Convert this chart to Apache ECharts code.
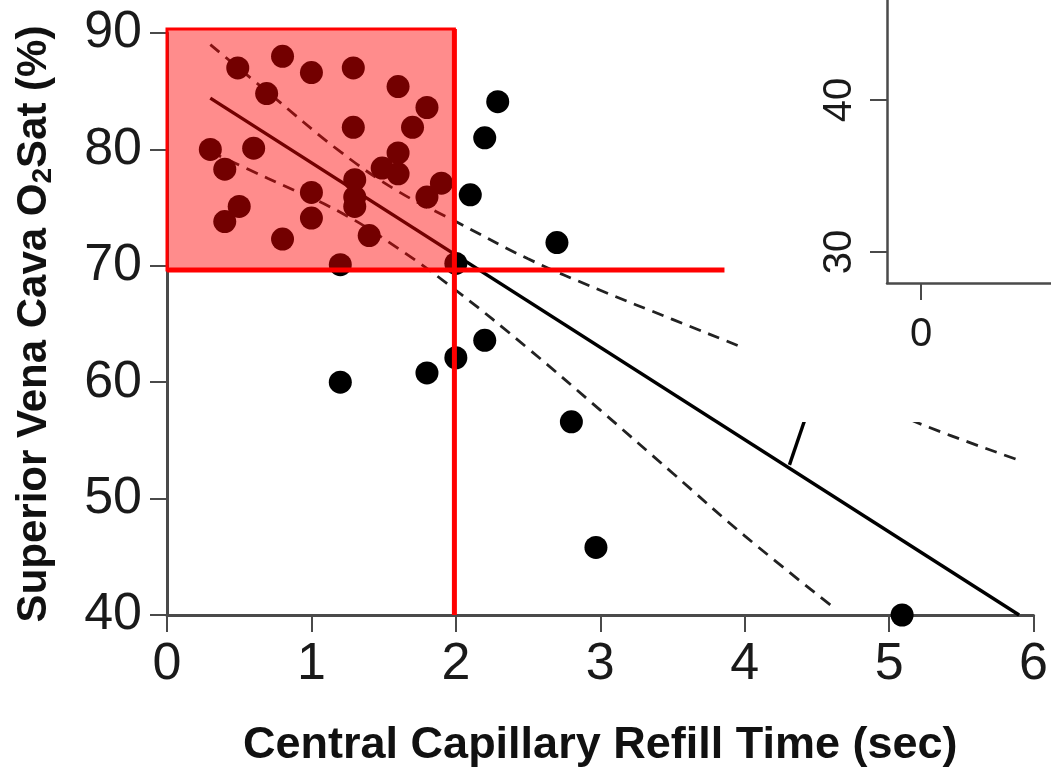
<!DOCTYPE html>
<html>
<head>
<meta charset="utf-8">
<script src="https://cdn.jsdelivr.net/npm/echarts@6/dist/echarts.min.js"></script>
<style>html,body{margin:0;padding:0;background:#fff}#c{width:1051px;height:774px}</style>
</head>
<body>
<div id="c"></div>
<script>
// Scatter data: Central capillary refill time (sec) vs SVC O2 saturation (%)
var ccrt = [0.49,0.8,1.0,1.29,0.69,1.6,1.8,1.7,1.29,0.3,0.6,0.4,1.6,1.49,1.6,1.9,1.8,1.3,1.3,1.3,1.0,1.0,0.5,0.4,1.4,0.8,1.2,2.0,2.29,2.2,2.1,2.7,1.2,1.8,2.0,2.2,2.8,2.97,5.09];
var svco2 = [87.0,88.0,86.6,87.0,84.8,85.4,83.6,81.9,81.9,80.0,80.1,78.3,79.7,78.4,77.9,77.1,75.9,77.4,75.9,75.1,76.3,74.1,75.1,73.8,72.6,72.3,70.1,70.2,84.1,81.0,76.1,72.0,60.0,60.8,62.1,63.6,56.6,45.8,40.0];
// Regression line end points
var fitX = [0.3, 5.9];
var fitY = [84.4, 40.0];
// Confidence band
var upX = [0.3,0.7,1.2,1.6,2.0,2.5,3.0,3.5,4.0,4.6,5.2,5.9];
var upY = [89.0,84.9,79.8,76.4,73.8,70.6,67.9,65.4,62.9,59.8,56.5,53.3];
var loX = [0.3,0.7,1.2,1.6,2.0,2.5,3.0,3.5,4.0,4.62];
var loY = [79.8,77.5,74.6,71.5,67.9,62.9,57.6,52.2,46.8,40.6];
// Short stray segment
var segX = [4.31, 4.45];
var segY = [52.9, 58.0];
// Highlight thresholds
var ccrtCut = 1.99;
var svcCut = 69.64;
var areaTop = 90.34;
var hLineEnd = 3.86;
var yBottom = 40;
// Tick labels
var xTicks = [0,1,2,3,4,5,6];
var yTicks = [40,50,60,70,80,90];
var insetYTicks = [30,40];
var insetXTicks = [0];

function zip(a,b){return a.map(function(v,i){return [v,b[i]];});}

var FONT = 'Liberation Sans';
var TFONT = "'Liberation Sans Narrow', 'Liberation Sans', sans-serif";
var axisCol = '#4a4a4a';

var chart = echarts.init(document.getElementById('c'), null, {renderer:'canvas'});
chart.setOption({
  backgroundColor:'#ffffff',
  animation:false,
  grid:[
    {left:167, right:16, top:33, bottom:159, containLabel:false},
    {left:887, right:0, top:0, bottom:491, containLabel:false}
  ],
  xAxis:[
    {type:'value', gridIndex:0, min:0, max:6, interval:1,
     name:'Central Capillary Refill Time (sec)', nameLocation:'middle', nameGap:108,
     nameTextStyle:{fontFamily:TFONT, fontWeight:'bold', fontSize:45, color:'#111'},
     axisLine:{show:true, onZero:false, lineStyle:{color:axisCol, width:3}},
     axisTick:{show:true, length:17, lineStyle:{color:axisCol, width:2}},
     axisLabel:{fontFamily:FONT, fontSize:52, color:'#1a1a1a', margin:24,
       customValues:xTicks},
     splitLine:{show:false}},
    {type:'value', gridIndex:1, min:-0.227, max:0.866, z:10,
     axisLine:{show:true, onZero:false, lineStyle:{color:axisCol, width:2.5}},
     axisTick:{show:true, length:17, customValues:insetXTicks, lineStyle:{color:axisCol, width:2}},
     axisLabel:{fontFamily:FONT, fontSize:40, color:'#1a1a1a', margin:32, customValues:insetXTicks},
     splitLine:{show:false}},
  ],
  yAxis:[
    {type:'value', gridIndex:0, min:40, max:90, interval:10,
     name:'{n|Superior Vena Cava O}{s|2}{n|Sat (%)}', nameLocation:'middle', nameGap:110, nameRotate:90,
     nameTextStyle:{rich:{
        n:{fontFamily:TFONT, fontWeight:'bold', fontSize:42, color:'#111'},
        s:{fontFamily:TFONT, fontWeight:'bold', fontSize:28, color:'#111', padding:[18,0,0,0]}}},
     axisLine:{show:true, onZero:false, lineStyle:{color:axisCol, width:3}},
     axisTick:{show:true, length:17, lineStyle:{color:axisCol, width:2}},
     axisLabel:{fontFamily:FONT, fontSize:52, color:'#1a1a1a', margin:25, customValues:yTicks},
     splitLine:{show:false}},
    {type:'value', gridIndex:1, min:27.96, max:46.58, z:10,
     axisLine:{show:true, onZero:false, lineStyle:{color:axisCol, width:2.5}},
     axisTick:{show:true, length:17, customValues:insetYTicks, lineStyle:{color:axisCol, width:2}},
     axisLabel:{fontFamily:FONT, fontSize:40, color:'#1a1a1a', margin:27, rotate:90, customValues:insetYTicks},
     splitLine:{show:false}}
  ],
  graphic:[
    {type:'rect', z:8, silent:true, shape:{x:740, y:0, width:320, height:422}, style:{fill:'#ffffff'}}
  ],
  series:[
    {type:'line', xAxisIndex:0, yAxisIndex:0, data:zip(upX,upY), smooth:0.4, symbol:'none', z:2,
     lineStyle:{color:'#222', width:2.8, type:[12,8]}},
    {type:'line', xAxisIndex:0, yAxisIndex:0, data:zip(loX,loY), smooth:0.4, symbol:'none', z:2,
     lineStyle:{color:'#222', width:2.8, type:[12,8]}},
    {type:'line', xAxisIndex:0, yAxisIndex:0, data:zip(fitX,fitY), symbol:'none', z:2,
     lineStyle:{color:'#000', width:3.4}},
    {type:'line', xAxisIndex:0, yAxisIndex:0, data:zip(segX,segY), symbol:'none', z:2,
     lineStyle:{color:'#000', width:3.4}},
    {type:'scatter', xAxisIndex:0, yAxisIndex:0, data:zip(ccrt,svco2), symbol:'circle', symbolSize:23, z:3,
     itemStyle:{color:'#000', opacity:1}},
    {type:'custom', xAxisIndex:0, yAxisIndex:0, z:10, clip:false, silent:true,
     data:[[0, areaTop, ccrtCut, svcCut, hLineEnd, yBottom]],
     encode:{x:[0,2,4], y:[1,3,5]},
     renderItem:function(params, api){
       var p0 = api.coord([api.value(0), api.value(1)]);
       var p1 = api.coord([api.value(2), api.value(3)]);
       var pe = api.coord([api.value(4), api.value(3)]);
       var pb = api.coord([api.value(2), api.value(5)]);
       return {type:'group', children:[
         {type:'rect', shape:{x:p0[0], y:p0[1], width:p1[0]-p0[0], height:p1[1]-p0[1]},
          style:{fill:'rgba(255,0,0,0.45)', stroke:'#ff0000', lineWidth:3}},
         {type:'line', shape:{x1:p1[0], y1:p0[1], x2:pb[0], y2:pb[1]},
          style:{stroke:'#ff0000', lineWidth:5}},
         {type:'line', shape:{x1:p0[0], y1:p1[1], x2:pe[0], y2:pe[1]},
          style:{stroke:'#ff0000', lineWidth:5}}
       ]};
     }}
  ]
});
</script>
</body>
</html>
